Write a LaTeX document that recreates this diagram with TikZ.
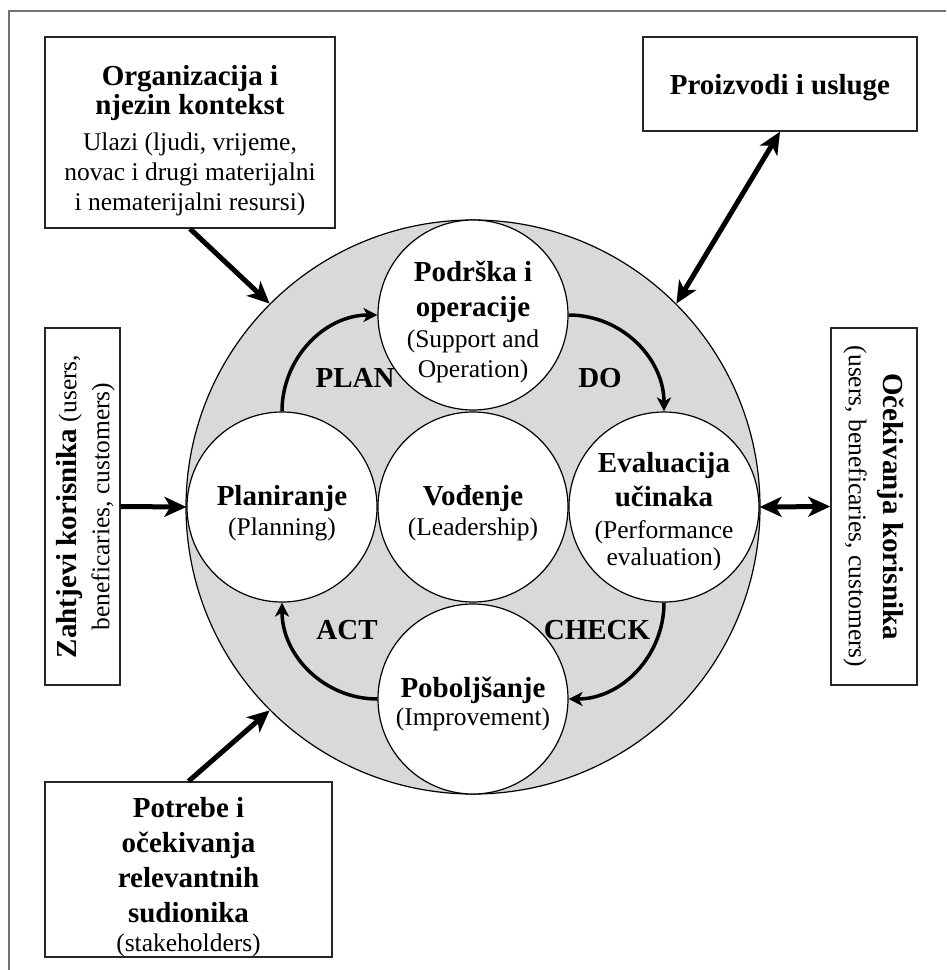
\documentclass[tikz,border=0pt]{standalone}
\usepackage{fontspec}
\setmainfont{Liberation Serif}
\usetikzlibrary{arrows.meta}
\newcommand\rmtext{\fontsize{25.5}{30}\selectfont}
\newcommand\bftext{\fontsize{29}{30}\selectfont\bfseries}

\begin{document}
\begin{tikzpicture}[x=1pt, y=1pt,
  frameline/.style={draw=black!55, line width=1.5pt},
  ring/.style={circle, draw, line width=1.2pt, fill=black!15, inner sep=0pt, minimum size=574pt},
  stage/.style={circle, draw, line width=1.2pt, fill=white, inner sep=0pt, minimum size=190pt},
  box/.style={draw=black!85, line width=1.5pt, fill=white, inner sep=0pt},
  caption/.style={align=center, font=\rmtext, inner sep=0pt},
  phase/.style={font=\bftext, inner sep=0pt},
  cyclearrow/.style={line width=3.5pt, -{Stealth[length=14pt, width=14pt, inset=4pt]}},
  inarrow/.style={line width=5pt, -{Stealth[length=22pt, width=20pt, inset=6pt]}},
  twoway/.style={line width=5pt, {Stealth[length=22pt, width=20pt, inset=6pt]}-{Stealth[length=22pt, width=20pt, inset=6pt]}},
]
\useasboundingbox (0,0) rectangle (946,-970);

% page frame (top and left rules)
\draw[frameline] (9,-970) -- (9,-11) -- (946,-11);

% shaded management system ring
\node[ring] (big) at (473,-507) {};

% PDCA stages
\node[stage] (sup) at (473,-315) {};
\node[stage] (plan) at (282,-507) {};
\node[stage] (lead) at (473,-507) {};
\node[stage] (eval) at (664,-507) {};
\node[stage] (imp) at (473,-699) {};

\node[caption, yshift=-7pt] (suptxt) at (sup.center)
  {{\bftext Podrška i}\\[5pt]{\bftext operacije}\\[1pt](Support and\\Operation)};
\node[caption, yshift=-6pt] (plantxt) at (plan.center) {{\bftext Planiranje}\\(Planning)};
\node[caption, yshift=-6pt] (leadtxt) at (lead.center) {{\bftext Vođenje}\\(Leadership)};
\node[caption, yshift=-5pt] (evaltxt) at (eval.center)
  {{\bftext Evaluacija}\\[4pt]{\bftext učinaka}\\[2pt](Performance\\[-3pt]evaluation)};
\node[caption, yshift=-5pt] (imptxt) at (imp.center) {{\bftext Poboljšanje}\\[-2pt](Improvement)};

% cycle arrows
\draw[cyclearrow] (plan.north) to[out=90,in=180] (sup.west);
\draw[cyclearrow] (sup.east) to[out=0,in=90] (eval.north);
\draw[cyclearrow] (eval.south) to[out=-90,in=0] (imp.east);
\draw[cyclearrow] (imp.west) to[out=180,in=-90] (plan.south);

% cycle labels
\node[phase] (planlbl) at (355,-378) {PLAN};
\node[phase] (dolbl) at (600,-378) {DO};
\node[phase] (actlbl) at (347,-630) {ACT};
\node[phase] (checklbl) at (597,-630) {CHECK};

% surrounding boxes
\node[box, minimum width=290pt, minimum height=191pt] (org) at (190,-132.5) {};
\node[caption, yshift=-8pt] (orgtxt) at (org.center)
  {{\bftext Organizacija i}\\[-1pt]{\bftext njezin kontekst}\\[6pt]Ulazi (ljudi, vrijeme,\\novac i drugi materijalni\\i nematerijalni resursi)};

\node[box, minimum width=274pt, minimum height=94pt] (prod) at (780,-84) {};
\node[caption, yshift=-4pt] (prodtxt) at (prod.center) {\bftext Proizvodi i usluge};

\node[box, minimum width=75pt, minimum height=357pt] (req) at (82.5,-506.5) {};
\node[caption, rotate=90, xshift=0pt, yshift=-3pt] (reqtxt) at (req.center)
  {{\bftext Zahtjevi korisnika} (users,\\[3pt]beneficaries, customers)};

\node[box, minimum width=86pt, minimum height=357pt] (exp) at (874,-506.5) {};
\node[caption, rotate=-90] (exptxt) at (exp.center)
  {{\bftext Očekivanja korisnika}\\[5pt](users, beneficaries, customers)};

\node[box, minimum width=287pt, minimum height=175pt] (need) at (188.5,-869.5) {};
\node[caption, yshift=-8pt] (needtxt) at (need.center)
  {{\bftext Potrebe i}\\[5pt]{\bftext očekivanja}\\[5pt]{\bftext relevantnih}\\[5pt]{\bftext sudionika}\\[-1pt](stakeholders)};

% inputs and outputs
\draw[inarrow] (org.south) -- (big.135);
\draw[twoway] (prod.south) -- (big.45);
\draw[inarrow] (req.east) -- (plan.west);
\draw[twoway] (eval.east) -- (exp.west);
\draw[inarrow] (need.north) -- (big.225);
\end{tikzpicture}
\end{document}
